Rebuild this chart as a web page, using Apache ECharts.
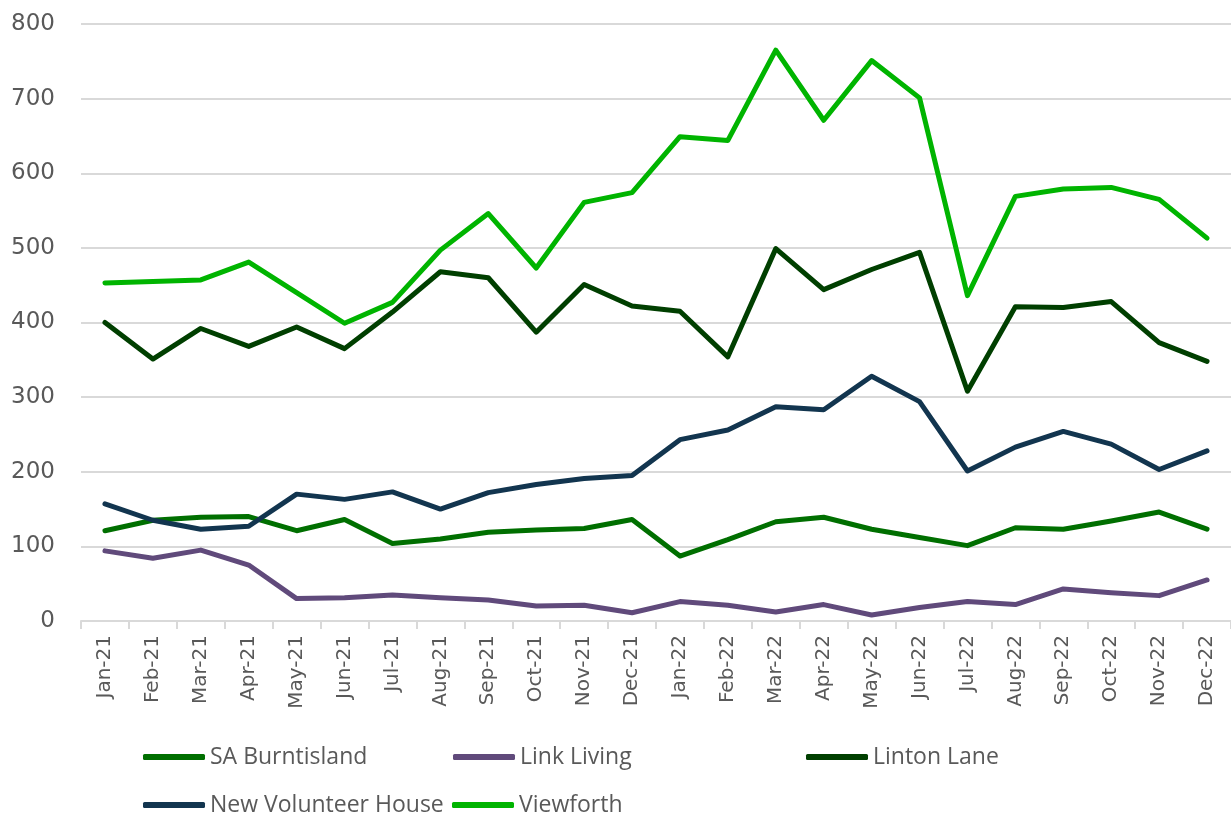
<!DOCTYPE html>
<html>
<head>
<meta charset="utf-8">
<script src="https://cdn.jsdelivr.net/npm/echarts@6/dist/echarts.min.js"></script>
<style>html,body{margin:0;padding:0;background:#fff;}#c{width:1231px;height:814px;}</style>
</head>
<body>
<div id="c"></div>
<script>
const categories = ['Jan-21','Feb-21','Mar-21','Apr-21','May-21','Jun-21','Jul-21','Aug-21','Sep-21','Oct-21','Nov-21','Dec-21',
  'Jan-22','Feb-22','Mar-22','Apr-22','May-22','Jun-22','Jul-22','Aug-22','Sep-22','Oct-22','Nov-22','Dec-22'];
const saBurntisland = [121,135,139,140,121,136,104,110,119,122,124,136,87,109,133,139,123,112,101,125,123,134,146,123];
const linkLiving = [94,84,95,75,30,31,35,31,28,20,21,11,26,21,12,22,8,18,26,22,43,38,34,55];
const lintonLane = [400,351,392,368,394,365,414,468,460,387,451,422,415,354,499,444,471,494,308,421,420,428,373,348];
const newVolunteerHouse = [157,135,123,127,170,163,173,150,172,183,191,195,243,256,287,283,328,294,201,233,254,237,203,228];
const viewforth = [453,455,457,481,440,399,427,497,546,473,561,574,649,644,765,671,751,701,436,569,579,581,565,513];
const yTicks = [0,100,200,300,400,500,600,700,800];

const seriesDefs = [
  {name:'SA Burntisland', data: saBurntisland, color:'#006F00'},
  {name:'Link Living', data: linkLiving, color:'#604A7B'},
  {name:'Linton Lane', data: lintonLane, color:'#003F00'},
  {name:'New Volunteer House', data: newVolunteerHouse, color:'#12354F'},
  {name:'Viewforth', data: viewforth, color:'#00B400'}
];
const legendPos = [
  {left:143, top:745},
  {left:453, top:745},
  {left:806, top:745},
  {left:143, top:793},
  {left:452, top:793}
];

const chart = echarts.init(document.getElementById('c'), null, {renderer:'canvas'});
chart.setOption({
  animation: false,
  backgroundColor: '#ffffff',
  grid: {left: 81, top: 24, width: 1162, height: 597, containLabel: false},
  xAxis: {
    type: 'category',
    data: categories,
    boundaryGap: true,
    axisLine: {show: true, lineStyle: {color: '#d9d9d9', width: 2}},
    axisTick: {show: true, interval: 0, length: 8, lineStyle: {color: '#d9d9d9', width: 2}},
    axisLabel: {interval: 0, rotate: 90, margin: 14, color: '#595959', fontFamily: 'DejaVu Sans', fontSize: 20}
  },
  yAxis: {
    type: 'value',
    min: yTicks[0],
    max: yTicks[yTicks.length-1],
    interval: 100,
    axisLine: {show: false},
    axisTick: {show: false},
    splitLine: {lineStyle: {color: '#d9d9d9', width: 2}},
    axisLabel: {margin: 26, color: '#595959', fontFamily: 'DejaVu Sans', fontSize: 23}
  },
  legend: seriesDefs.map((s, i) => ({
    data: [s.name],
    left: legendPos[i].left,
    top: legendPos[i].top,
    icon: 'roundRect',
    itemWidth: 62,
    itemHeight: 6,
    padding: 0,
    textStyle: {color: '#595959', fontFamily: 'Open Sans', fontSize: 23, lineHeight: 24}
  })),
  series: seriesDefs.map(s => ({
    name: s.name,
    type: 'line',
    data: s.data,
    symbol: 'none',
    color: s.color,
    lineStyle: {width: 5, color: s.color, cap: 'round', join: 'round'},
    emphasis: {disabled: true}
  }))
});
</script>
</body>
</html>
